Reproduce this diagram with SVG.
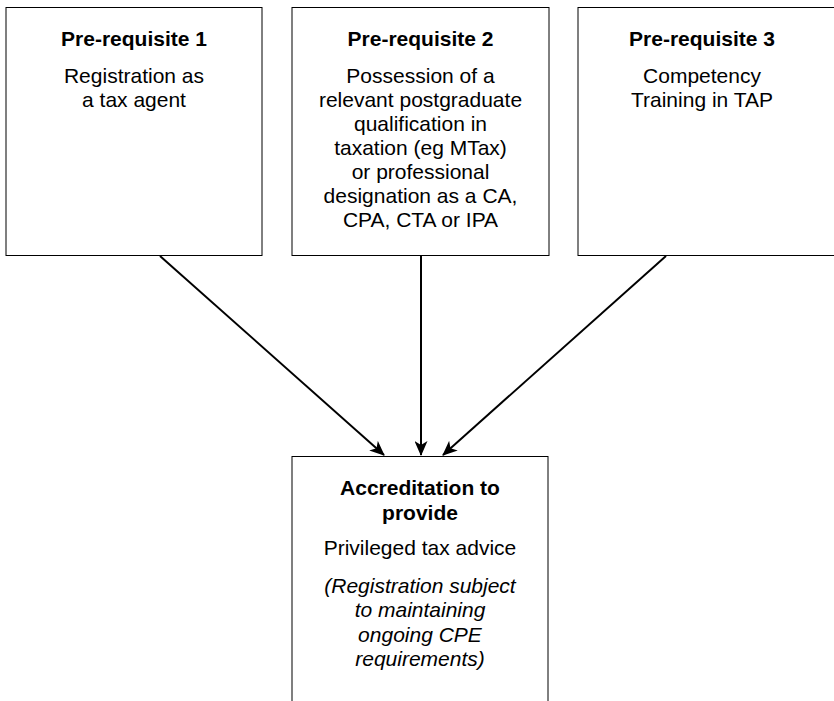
<svg xmlns="http://www.w3.org/2000/svg" width="834" height="701" viewBox="0 0 834 701">
<style>
  .box { fill: #ffffff; stroke: #000000; stroke-width: 1; }
  .t { font-family: "Liberation Sans", Arial, Helvetica, sans-serif; font-size: 21px; fill: #000000; text-anchor: middle; }
  .b { font-weight: bold; }
  .i { font-style: italic; }
  .conn { stroke: #000000; stroke-width: 2; fill: none; }
</style>
<defs>
  <marker id="arrow" viewBox="0 0 15 13" refX="14" refY="6.5" markerWidth="15" markerHeight="13" markerUnits="userSpaceOnUse" orient="auto">
    <path d="M0,0 L15,6.5 L0,13 L4,6.5 Z" fill="#000000"/>
  </marker>
</defs>
<rect width="834" height="701" fill="#ffffff"/>
<g id="prereq1">
  <rect class="box" x="6" y="7.5" width="256" height="248"/>
  <text class="t b" x="134" y="46">Pre-requisite 1</text>
  <text class="t" x="134" y="83">Registration as</text>
  <text class="t" x="134" y="107">a tax agent</text>
</g>
<g id="prereq2">
  <rect class="box" x="292" y="7.5" width="257" height="248"/>
  <text class="t b" x="420.5" y="46">Pre-requisite 2</text>
  <text class="t" x="420.5" y="83">Possession of a</text>
  <text class="t" x="420.5" y="107">relevant postgraduate</text>
  <text class="t" x="420.5" y="131">qualification in</text>
  <text class="t" x="420.5" y="155">taxation (eg MTax)</text>
  <text class="t" x="420.5" y="179">or professional</text>
  <text class="t" x="420.5" y="203">designation as a CA,</text>
  <text class="t" x="420.5" y="227">CPA, CTA or IPA</text>
</g>
<g id="prereq3">
  <rect class="box" x="578" y="7.5" width="262" height="248"/>
  <text class="t b" x="702" y="46">Pre-requisite 3</text>
  <text class="t" x="702" y="83">Competency</text>
  <text class="t" x="702" y="107">Training in TAP</text>
</g>
<g id="accreditation">
  <rect class="box" x="292" y="456.5" width="256" height="260"/>
  <text class="t b" x="420" y="495">Accreditation to</text>
  <text class="t b" x="420" y="520">provide</text>
  <text class="t" x="420" y="555">Privileged tax advice</text>
  <text class="t i" x="420" y="593">(Registration subject</text>
  <text class="t i" x="420" y="617">to maintaining</text>
  <text class="t i" x="420" y="642">ongoing CPE</text>
  <text class="t i" x="420" y="666">requirements)</text>
</g>
<g id="connectors">
  <line class="conn" x1="160" y1="256" x2="384" y2="455" marker-end="url(#arrow)"/>
  <line class="conn" x1="421" y1="256" x2="421" y2="455" marker-end="url(#arrow)"/>
  <line class="conn" x1="666" y1="256" x2="443" y2="455" marker-end="url(#arrow)"/>
</g>
</svg>
